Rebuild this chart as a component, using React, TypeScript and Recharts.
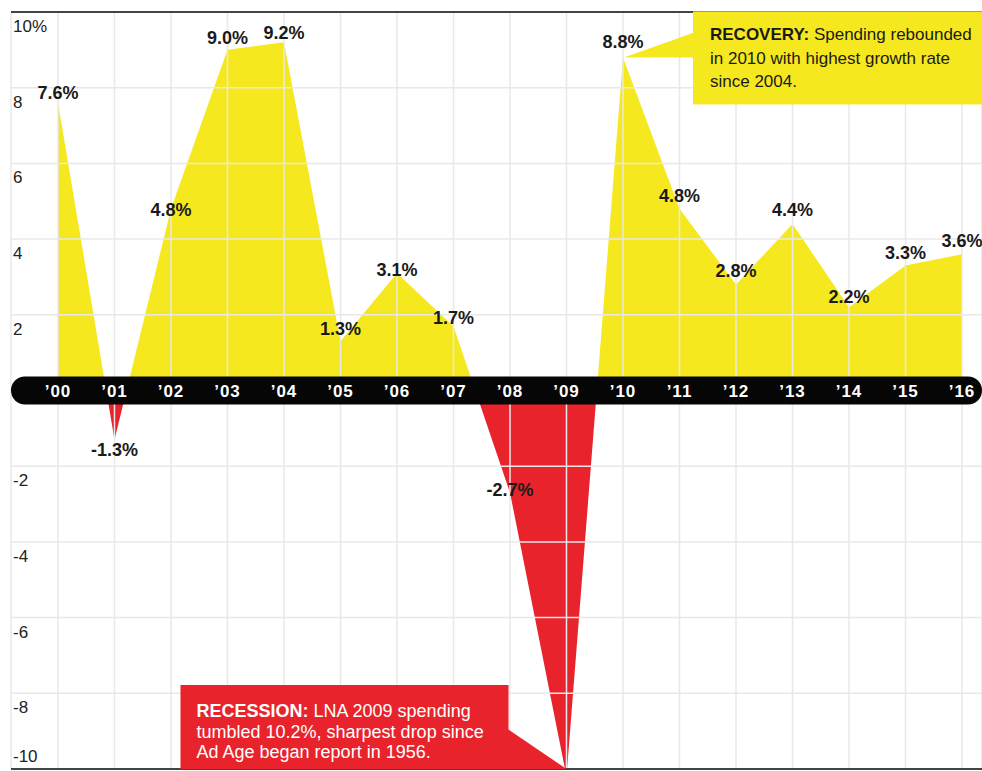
import React from 'react';
import {
  ComposedChart,
  Area,
  Line,
  XAxis,
  YAxis,
  CartesianGrid,
  ReferenceLine,
  ReferenceDot,
  LabelList,
} from 'recharts';

const years = ['’00', '’01', '’02', '’03', '’04', '’05', '’06', '’07', '’08', '’09', '’10', '’11', '’12', '’13', '’14', '’15', '’16'];
const growth = [7.6, -1.3, 4.8, 9.0, 9.2, 1.3, 3.1, 1.7, -2.7, -10.2, 8.8, 4.8, 2.8, 4.4, 2.2, 3.3, 3.6];
const showLabel = [true, true, true, true, true, true, true, true, true, false, true, true, true, true, true, true, true];
const labelDy = [-10, 10, 1, -12, -9, -12, -3, -8, -3, 0, -15, -13, -14, -14, -10, -13, -13];
const yTicks = [-10, -8, -6, -4, -2, 0, 2, 4, 6, 8, 10];
const yTickLabels = ['-10', '-8', '-6', '-4', '-2', '', '2', '4', '6', '8', '10%'];

const YELLOW = '#f6e81e';
const RED = '#e8232b';
const FONT = '"Liberation Sans", Arial, sans-serif';

const data = years.map((year, i) => ({ year, value: growth[i] }));
const maxV = Math.max(...growth);
const minV = Math.min(...growth);
const zeroOffset = maxV / (maxV - minV);

const makeYLabel = (text: string, below: boolean) => (p: any) => {
  const vb = p.viewBox || {};
  if (!text) return null;
  return (
    <text
      x={vb.x + 2}
      y={below ? vb.y + 20 : vb.y - 7}
      textAnchor="start"
      fontSize={17}
      fill="#222"
      fontFamily={FONT}
    >
      {text}
    </text>
  );
};

const BandShape = (p: any) => {
  const h = 28;
  const x = Math.min(p.x1, p.x2);
  const w = Math.abs(p.x2 - p.x1);
  return <rect x={x} y={p.y1 - h / 2} width={w} height={h} rx={h / 2} ry={h / 2} fill="#060606" />;
};

const ValueLabel = (p: any) => {
  const i = p.index;
  if (!showLabel[i]) return null;
  return (
    <text
      x={p.x}
      y={p.y + labelDy[i]}
      textAnchor="middle"
      dominantBaseline="central"
      fontSize={18}
      fontWeight="bold"
      fill="#1a1a1a"
      fontFamily={FONT}
    >
      {`${growth[i].toFixed(1)}%`}
    </text>
  );
};

const YearLabel = (p: any) => (
  <text
    x={p.x}
    y={p.y + 1}
    textAnchor="middle"
    dominantBaseline="central"
    fontSize={17}
    fontWeight="bold"
    fill="#ffffff"
    letterSpacing={1}
    fontFamily={FONT}
  >
    {years[p.index]}
  </text>
);

const RecoveryCallout = (p: any) => {
  const { cx, cy } = p;
  return (
    <g>
      <polygon points={`${cx + 1},${cy} ${cx + 71},${cy - 25} ${cx + 71},${cy}`} fill={YELLOW} />
      <rect x={cx + 70} y={cy - 46} width={289} height={93} fill={YELLOW} />
      <text x={cx + 87} y={cy - 17} fontSize={17} fill="#1a1a1a" fontFamily={FONT}>
        <tspan fontWeight="bold">RECOVERY:</tspan>
        {' Spending rebounded'}
      </text>
      <text x={cx + 87} y={cy + 7} fontSize={17} fill="#1a1a1a" fontFamily={FONT}>
        in 2010 with highest growth rate
      </text>
      <text x={cx + 87} y={cy + 30} fontSize={17} fill="#1a1a1a" fontFamily={FONT}>
        since 2004.
      </text>
    </g>
  );
};

const RecessionCallout = (p: any) => {
  const { cx, cy } = p;
  return (
    <g>
      <polygon points={`${cx},${cy} ${cx - 59},${cy - 40} ${cx - 59},${cy}`} fill={RED} />
      <rect x={cx - 386} y={cy - 84} width={328} height={84} fill={RED} />
      <text x={cx - 370} y={cy - 52} fontSize={18} fill="#ffffff" fontFamily={FONT}>
        <tspan fontWeight="bold">RECESSION:</tspan>
        {' LNA 2009 spending'}
      </text>
      <text x={cx - 370} y={cy - 31} fontSize={18} fill="#ffffff" fontFamily={FONT}>
        tumbled 10.2%, sharpest drop since
      </text>
      <text x={cx - 370} y={cy - 11} fontSize={18} fill="#ffffff" fontFamily={FONT}>
        Ad Age began report in 1956.
      </text>
    </g>
  );
};

const zeroKey = () => 0;

export default function App() {
  return (
    <div style={{ position: 'absolute', left: 0, top: 0, width: 982, height: 771, background: '#fff' }}>
      <ComposedChart width={982} height={771} data={data} margin={{ top: 12, right: 0, bottom: 2, left: 11 }}>
        <defs>
          <linearGradient id="splitFill" x1="0" y1="0" x2="0" y2="1">
            <stop offset={zeroOffset} stopColor={YELLOW} />
            <stop offset={zeroOffset} stopColor={RED} />
          </linearGradient>
        </defs>
        <XAxis dataKey="year" hide padding={{ left: 47, right: 20 }} />
        <YAxis type="number" domain={[-10, 10]} ticks={yTicks} allowDataOverflow hide />
        <Area
          type="linear"
          dataKey="value"
          fill="url(#splitFill)"
          fillOpacity={1}
          stroke="none"
          baseValue={0}
          dot={false}
          activeDot={false}
          isAnimationActive={false}
          zIndex={100}
        />
        <CartesianGrid stroke="#e8e8e8" strokeWidth={1.5} zIndex={150} />
        <ReferenceLine y={10} stroke="#444" strokeWidth={2} zIndex={160} />
        <ReferenceLine y={-10} stroke="#444" strokeWidth={2} zIndex={160} />
        {yTicks.map((v, i) => (
          <ReferenceLine
            key={`yl${v}`}
            y={v}
            stroke="none"
            zIndex={165}
            label={makeYLabel(yTickLabels[i], v !== -10)}
          />
        ))}
        <ReferenceLine y={0} shape={<BandShape />} zIndex={170} />
        <Line dataKey={zeroKey} stroke="none" dot={false} activeDot={false} isAnimationActive={false} zIndex={400}>
          <LabelList dataKey="year" content={<YearLabel />} />
        </Line>
        <Line dataKey="value" stroke="none" dot={false} activeDot={false} isAnimationActive={false} zIndex={400}>
          <LabelList dataKey="value" content={<ValueLabel />} />
        </Line>
        <ReferenceDot x="’10" y={8.8} r={0} shape={<RecoveryCallout />} ifOverflow="visible" zIndex={3000} />
        <ReferenceDot x="’09" y={-10} r={0} shape={<RecessionCallout />} ifOverflow="visible" zIndex={3000} />
      </ComposedChart>
    </div>
  );
}
